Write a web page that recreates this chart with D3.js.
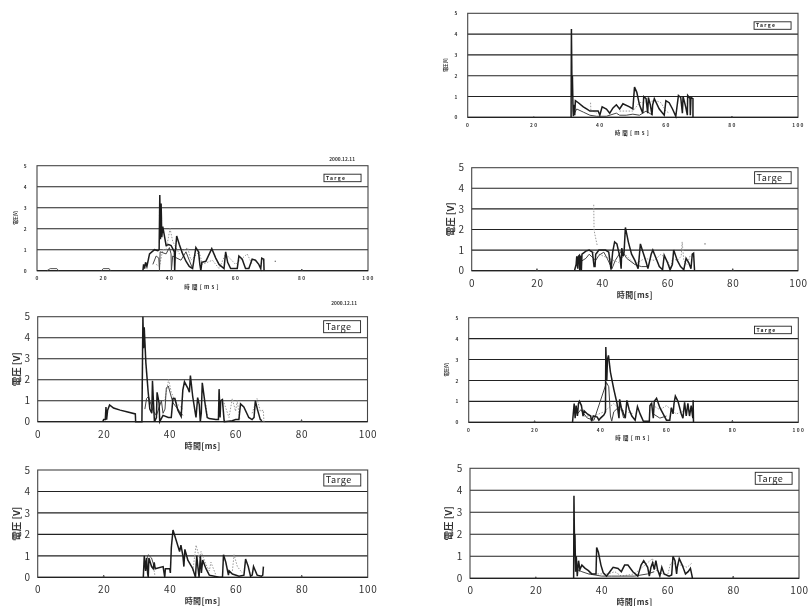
<!DOCTYPE html>
<html><head><meta charset="utf-8">
<script src="https://cdn.jsdelivr.net/npm/d3@7"></script>
<style>html,body{margin:0;padding:0;background:#fff}svg{display:block}</style>
</head><body><svg id="c" width="812" height="606"></svg>
<script>
// tick labels and shared text
const xTicks=[0,20,40,60,80,100];
const yTicks=[0,1,2,3,4,5];
const legendText="Targe";
const dateText="2000.12.11";
const xTitle="時間[ms]";
const yTitle="電圧 [V]";

// left column, panel A
const aHeavy=[[32,0],[32.2,.3],[32.5,.1],[32.8,.4],[33.2,.2],[34,.8],[35.5,1],[36.5,.95],[36.9,1],[37.1,3.6],[37.3,1.5],[37.5,3.2],[37.7,1.6],[38,2.1],[39,1.2],[39.8,1.25],[40.5,1.2],[41.5,.9],[41.6,0],[41.8,.9],[42.2,1.65],[43,1.25],[44,.8],[45,.45],[46,.2],[47,.1],[48,1.1],[48.8,.9],[49.2,.3],[49.5,0],[49.8,.4],[51,.45],[52.8,1.05],[54,.6],[55,.3],[56.5,.1],[57,.9],[57.6,.4],[58.5,.1],[60.5,.1],[61,.7],[62,.55],[63,.1],[64,.1],[65,.55],[66,.5],[67,.3],[67.6,.1],[67.9,.6],[68.5,.55],[68.6,0]];
const aThin=[[35,.3],[36,.7],[36.8,.6],[37,0],[37.2,.9],[39,.8],[40,1.1],[40.5,.8],[40.6,0],[41,.7],[43.5,.5],[45,.9],[46,.5],[47,.1]];
const aDotted=[[36,.3],[37,.2],[38,1],[39,1],[40.2,2],[41,1.4],[43,.8],[45.5,1.1],[46.5,.5],[49,.9],[50,.3],[53,.5],[55,.1],[57,.8],[60,.3],[63.5,.8],[65,.3]];
const aSpecks=[[3,0],[4,.1],[6,.1],[6.5,0],[null,null],[19.5,0],[20,.1],[21.8,.1],[22.2,0],[null,null],[71.8,.45],[72.2,.45],[null,null],[79.8,0],[80,.08],[80.2,0]];

// left column, panel B
const bHeavy=[[19.7,0],[20,.1],[20.5,.1],[20.7,.7],[20.9,.1],[21.2,.55],[21.8,.8],[23,.65],[25,.55],[27,.47],[29.6,.37],[29.7,0],[31.6,0],[31.9,5],[32.1,3.5],[32.3,4.5],[32.8,2.8],[33.5,1.4],[34,.6],[34.6,.4],[34.8,1.95],[35.2,.6],[35.4,0],[36,.2],[36.2,1.4],[36.8,.9],[37,0],[38,.3],[39.6,.2],[40.5,.2],[41,1.1],[41.6,1.1],[42.5,.55],[43.5,.25],[44,1.5],[44.5,1.9],[45.5,1.6],[46,1.4],[46.3,2.2],[47,1.2],[47.8,.4],[48,.2],[48.5,1.15],[49,.8],[49.3,0],[49.6,.4],[49.9,1.85],[50.8,.8],[51.4,.2],[52,.15],[54,.1],[54.8,.1],[55,1.55],[55.3,.2],[55.5,1],[56,1.05],[56.5,.1],[56.6,0],[59,.05],[60,.1],[61,.1],[61.5,.85],[62.5,.7],[64,.2],[65,.1],[65.6,.2],[66,1],[66.6,.6],[67.5,.1],[68,.05]];
const bThin=[[32.5,.6],[33,1.1],[33.6,1.2],[34.4,.8],[35,.5],[36,.3],[37.5,1],[38,.4],[38.6,.6],[39,1.6],[39.6,1.7],[41,.9],[43,.5],[44,.3]];
const bDotted=[[38.5,1],[39.7,2],[40.5,1.4],[42,.9],[44,.6],[null,null],[51,.8],[51.5,.2],[null,null],[56.5,.9],[58,.2],[59,1.1],[60,.5],[60.5,1],[61.3,.1],[null,null],[65,.4],[66.5,1.1],[67.5,.5],[68.4,.55],[68.6,0]];
const bSpecks=[[79.8,0],[80,.1],[80.2,0]];

// left column, panel C
const cHeavy=[[32,0],[32.3,1],[32.7,.3],[33,.9],[33.3,.2],[33.5,0],[33.7,.9],[34.5,.5],[35,.4],[35.3,.7],[35.6,.4],[38,.5],[38.4,.1],[38.5,0],[38.7,.4],[40,.4],[40.2,.2],[40.5,1.4],[41,2.2],[42,1.7],[43,1.2],[43.4,1.5],[44,1],[44.3,.5],[44.6,1.3],[45.5,.8],[47,.4],[47.6,.1],[47.8,0],[48.2,1],[48.6,.4],[48.9,0],[49.3,1],[49.6,.2],[50,.8],[51,.4],[52,.1],[55,0],[56,0],[56.3,1.05],[57,.7],[57.8,.1],[58,.3],[59,.15],[61,.05],[62.5,.1],[63,.85],[63.8,.5],[64.5,.05],[65,.1],[65.4,.5],[66.5,.1],[67.8,.05],[68.2,.1],[68.4,.5]];
const cThin=[[32.2,.5],[33.5,1.05],[34.5,.9],[35.3,.5]];
const cDotted=[[35,.6],[35.5,.1],[null,null],[47,.3],[48,1.5],[49,.9],[49.5,1.2],[51,.6],[52,.3],[52.5,.7],[54,.1],[null,null],[59,.3],[59.5,1.05],[60.5,.5],[62,.2],[null,null],[68,.5]];
const cSpecks=[[19.8,0],[20,.1],[20.2,0],[null,null],[79.8,0],[80,.1],[80.2,0]];

// right column, panel D
const dHeavy=[[31.3,0],[31.4,4.25],[31.6,1],[31.7,2],[31.9,.3],[32,.05],[32.2,.6],[32.4,.1],[32.6,.8],[33.5,.7],[35,.5],[36,.4],[37,.3],[38,.3],[39.5,.3],[40,.1],[40.7,.5],[42,.4],[43,.2],[44,.45],[45,.6],[46,.4],[47,.65],[49,.5],[50,.4],[50.5,1.45],[51.2,1.2],[52,.6],[53,.2],[53.3,1],[54,.9],[54.5,.2],[54.7,.95],[55.3,.6],[55.8,.1],[56,.6],[56.5,.9],[58,.4],[59.5,.1],[60,.8],[61,.7],[62,.4],[63,.05],[63.8,1.05],[64.5,.95],[65,.2],[65.2,1],[66,.5],[66.5,.1],[66.6,1.05],[67.3,.9],[67.4,.1],[67.6,.95],[68.2,.9],[68.2,0]];
const dThin=[[32,.1],[33,.4],[35,.25],[37,.1],[39,.05],[42,.05],[45,.2],[46,.1],[48,.1],[50,.15],[52,.1],[54,.3],[56,.1]];
const dDotted=[[37.2,.7],[37.3,.3],[null,null],[38,.3],[39,.2],[null,null],[46,.3],[50,.3],[52,.7],[57,.8],[58.5,.7],[60,.3],[61,.2]];
const dSpecks=[[20,0],[20,.05],[null,null],[79.8,0],[80,.06],[80.2,0]];

// right column, panel E
const eHeavy=[[31.5,0],[32,.3],[32.2,.7],[32.5,.1],[32.7,.7],[33,.75],[33.1,0],[33.3,.7],[33.5,.7],[33.6,0],[33.8,.8],[35,.95],[36,1],[37,.9],[37.5,.2],[37.8,.2],[38,.8],[39,1],[40,1],[41,1],[42,.9],[42.7,.05],[43.2,.9],[43.8,1.4],[44.5,1.3],[45.5,.6],[45.8,.1],[46,1.1],[46.4,.7],[46.7,.9],[47.1,2.1],[48,1.4],[49,.8],[50,.5],[51,.1],[51.3,.6],[51.7,1.3],[52.5,.9],[53.5,.4],[54,.1],[55,.8],[55.5,1],[56.5,.6],[57.5,.2],[58.5,.05],[59,.75],[60,.4],[60.8,.05],[61.5,.3],[61.9,1],[63,.5],[64,.2],[65,.05],[65.7,.6],[66.5,.4],[67.2,.1],[67.6,.8],[68,.85],[68.3,0]];
const eThin=[[33,.4],[35,.6],[36,.8],[38,.5],[39,.75],[40.5,.9],[41.5,.6],[43,.1],[44,.5],[46,1],[47.5,.6],[50,.3],[52,.2],[54,.2]];
const eDotted=[[37.4,3.2],[37.5,2],[37.7,1.8],[38.5,1.2],[null,null],[37.2,.9],[39,.8],[45,.4],[47,.8],[50,.3],[53,.6],[56,.5],[58,.8],[60,.5],[61,.1],[61.5,.6],[63,.5],[64.2,.7],[64.5,1.4],[65,.5],[66,.3],[67,.75]];
const eSpecks=[[19.8,0],[20,.1],[20.2,0],[null,null],[71.3,1.3],[71.7,1.3],[null,null],[79.8,0],[80,.1],[80.2,0]];

// right column, panel F
const fHeavy=[[31.5,0],[32,.9],[32.3,.2],[32.6,.8],[33,.3],[33.3,.9],[33.6,1],[34.2,.8],[34.7,.3],[35,.55],[36,.4],[37,.3],[37.3,.05],[37.8,.3],[39,.25],[39.5,.1],[40,.2],[41,.35],[41.5,.5],[41.6,3.6],[41.9,2],[42.1,3],[42.4,3.2],[43,2.4],[44,1.6],[45,.9],[45.6,.2],[45.8,1.1],[46.3,.7],[47,.4],[47.5,.2],[48,1.05],[48.7,.6],[49.5,.3],[50.5,.1],[51.2,.75],[52,.4],[53,.05],[54.8,.05],[55,.8],[55.5,.9],[56,.2],[56.3,1],[57,1.15],[58,.7],[59,.4],[60,.1],[61,.1],[61.5,.7],[62,.4],[62.3,.9],[62.7,1.25],[63.5,1],[64.5,.4],[65,.2],[65.5,.95],[66,.3],[66.5,.9],[67,.3],[67.5,.8],[68,.2],[68.1,1.05],[68.2,0]];
const fThin=[[33,.4],[34,.6],[35,.4],[36,.2],[38,.1],[41.8,1.9],[42.5,1.7],[43,.3],[43.4,.05],[44,.5],[46,.8],[47,.2],[null,null],[56,.4],[58,.2],[60,.3]];
const fDotted=[[35,.3],[38,.3],[41,.5],[44,.9],[46,.6],[50,.4],[null,null],[55,.9],[58,.6],[60,.8],[63,.4],[66,.6]];
const fSpecks=[[19.8,0],[20,.08],[20.2,0],[null,null],[79.8,0],[80,.1],[80.2,0]];

// right column, panel G
const gHeavy=[[31.5,0],[31.6,3.75],[31.8,1],[31.9,2],[32.1,.3],[32.3,1],[32.6,.1],[33,.8],[33.4,.4],[34,.6],[35,.45],[36,.35],[37,.2],[38,.2],[38.3,.2],[38.5,1.4],[39,1.2],[39.8,.6],[40.5,.25],[41.5,.1],[42.5,.3],[43.5,.5],[45,.45],[46,.3],[47,.6],[48,.6],[49.5,.3],[51,.1],[52,.6],[52.8,.8],[54,.5],[54.5,.1],[55,.5],[55.5,.7],[56,.4],[56.5,.8],[57,.4],[57.7,.1],[58.3,.5],[59,.2],[60.5,.1],[61.3,.15],[61.7,1],[62.3,.8],[62.8,.2],[63,.5],[63.6,.9],[64.5,.6],[65.5,.2],[66.3,.3],[67,.45],[67.5,.1],[67.6,0]];
const gThin=[[32.5,.4],[34,.3],[36,.2],[38,.15],[40,.1],[43,.1],[46,.1],[50,.1],[54,.2],[56,.3]];
const gDotted=[[36,.2],[42,.2],[44,.3],[46,.1],[50,.2],[55.5,.9],[56,.5],[57,.3],[60,.1],[61,.7],[64,.6],[66,.5],[67.5,.7]];
const gSpecks=[[19.8,0],[20,.07],[20.2,0],[null,null],[79.8,0],[80,.1],[80.2,0]];

const panelDefs=[
 {heavy:aHeavy,thin:aThin,dotted:aDotted,specks:aSpecks,box:[37,165.7,368,270.7],small:true,date:[355,161]},
 {heavy:bHeavy,thin:bThin,dotted:bDotted,specks:bSpecks,box:[37.7,316.7,367.5,421.7],small:false,date:[357,305]},
 {heavy:cHeavy,thin:cThin,dotted:cDotted,specks:cSpecks,box:[37.7,470,367.7,577.3],small:false},
 {heavy:dHeavy,thin:dThin,dotted:dDotted,specks:dSpecks,box:[467.7,13.3,798,117.3],small:true},
 {heavy:eHeavy,thin:eThin,dotted:eDotted,specks:eSpecks,box:[471.7,167.7,798,270.7],small:false},
 {heavy:fHeavy,thin:fThin,dotted:fDotted,specks:fSpecks,box:[468.7,317.7,798.3,422.3],small:true},
 {heavy:gHeavy,thin:gThin,dotted:gDotted,specks:gSpecks,box:[470,468.3,799,578.3],small:false}
];

const svg=d3.select("#c");
const defs=svg.append("defs");
defs.append("filter").attr("id","scan").attr("x","-2%").attr("y","-2%").attr("width","104%").attr("height","104%")
  .append("feGaussianBlur").attr("stdDeviation",0.4);
const root=svg.append("g").attr("filter","url(#scan)");
const font="'Noto Sans CJK JP','DejaVu Sans',sans-serif";

panelDefs.forEach(p=>{
  const [x0,y0,x1,y1]=p.box;
  const x=d3.scaleLinear().domain([0,100]).range([x0,x1]);
  const y=d3.scaleLinear().domain([0,5]).range([y1,y0]);
  const g=root.append("g");
  g.append("g").selectAll("line").data(yTicks.filter(t=>t>0&&t<5)).join("line")
    .attr("x1",x0).attr("x2",x1).attr("y1",d=>y(d)).attr("y2",d=>y(d))
    .attr("stroke","#222").attr("stroke-width",1.1);
  g.append("rect").attr("x",x0).attr("y",y0).attr("width",x1-x0).attr("height",y1-y0)
    .attr("fill","none").attr("stroke","#444").attr("stroke-width",1.1);
  g.append("line").attr("x1",x0).attr("x2",x1).attr("y1",y1).attr("y2",y1).attr("stroke","#222").attr("stroke-width",1.3);
  const fs=p.small?4.8:10;
  const ls=p.small?"1.4px":"0.7px";
  const ax=g.append("g").attr("transform",`translate(0,${y1})`)
    .call(d3.axisBottom(x).tickValues(xTicks).tickSize(0).tickPadding(p.small?6:9));
  const ay=g.append("g").attr("transform",`translate(${x0},0)`)
    .call(d3.axisLeft(y).tickValues(yTicks).tickFormat(d3.format("d")).tickSize(0).tickPadding(p.small?9:7));
  [ax,ay].forEach(a=>{a.select(".domain").remove();
    a.selectAll("text").attr("font-family",font).attr("font-size",fs)
     .attr("font-weight",p.small?700:400).attr("fill","#333").style("letter-spacing",ls);});
  const line=d3.line().defined(d=>d[0]!=null).x(d=>x(d[0])).y(d=>y(d[1]));
  g.append("path").attr("d",line(p.specks)).attr("fill","none").attr("stroke","#444").attr("stroke-width",.9);
  g.append("path").attr("d",line(p.dotted)).attr("fill","none").attr("stroke","#999").attr("stroke-width",1).attr("stroke-dasharray","1.5 1.5");
  g.append("path").attr("d",line(p.thin)).attr("fill","none").attr("stroke","#444").attr("stroke-width",1);
  g.append("path").attr("d",line(p.heavy)).attr("fill","none").attr("stroke","#1c1c1c").attr("stroke-width",1.5);
  // legend box
  const lw=(x1-x0)*0.112, lh=p.small?7.5:12;
  const lx=x1-(x1-x0)*0.021-lw, ly=y0+(p.small?8.5:4);
  g.append("rect").attr("x",lx).attr("y",ly).attr("width",lw).attr("height",lh)
    .attr("fill","#fff").attr("stroke","#222").attr("stroke-width",.9);
  g.append("text").attr("x",lx+2).attr("y",ly+lh/2).attr("dy",".36em").text(legendText)
    .attr("font-family",font).attr("font-size",p.small?5:9).attr("font-weight",p.small?700:400)
    .attr("fill","#222").style("letter-spacing",p.small?"1.3px":"0.6px");
  // titles
  g.append("text").attr("x",(x0+x1)/2).attr("y",y1+(p.small?18:27)).attr("text-anchor","middle").text(xTitle)
    .attr("font-family",font).attr("font-size",p.small?5.5:8).attr("font-weight",700).attr("fill","#333").style("letter-spacing",p.small?"2.2px":"0.4px");
  const ty=(y0+y1)/2;
  const tx=x0-(p.small?22:21);
  g.append("text").attr("transform",`translate(${tx},${ty}) rotate(-90)`).attr("text-anchor","middle").attr("dy",".36em").text(yTitle)
    .attr("font-family",font).attr("font-size",p.small?4.5:9.5).attr("font-weight",700).attr("fill","#333").style("letter-spacing",p.small?"-0.5px":"0");
  if(p.date){
    g.append("text").attr("x",p.date[0]).attr("y",p.date[1]).attr("text-anchor","end").text(dateText)
      .attr("font-family",font).attr("font-size",4.8).attr("font-weight",700).attr("fill","#333");
  }
});
</script></body></html>
